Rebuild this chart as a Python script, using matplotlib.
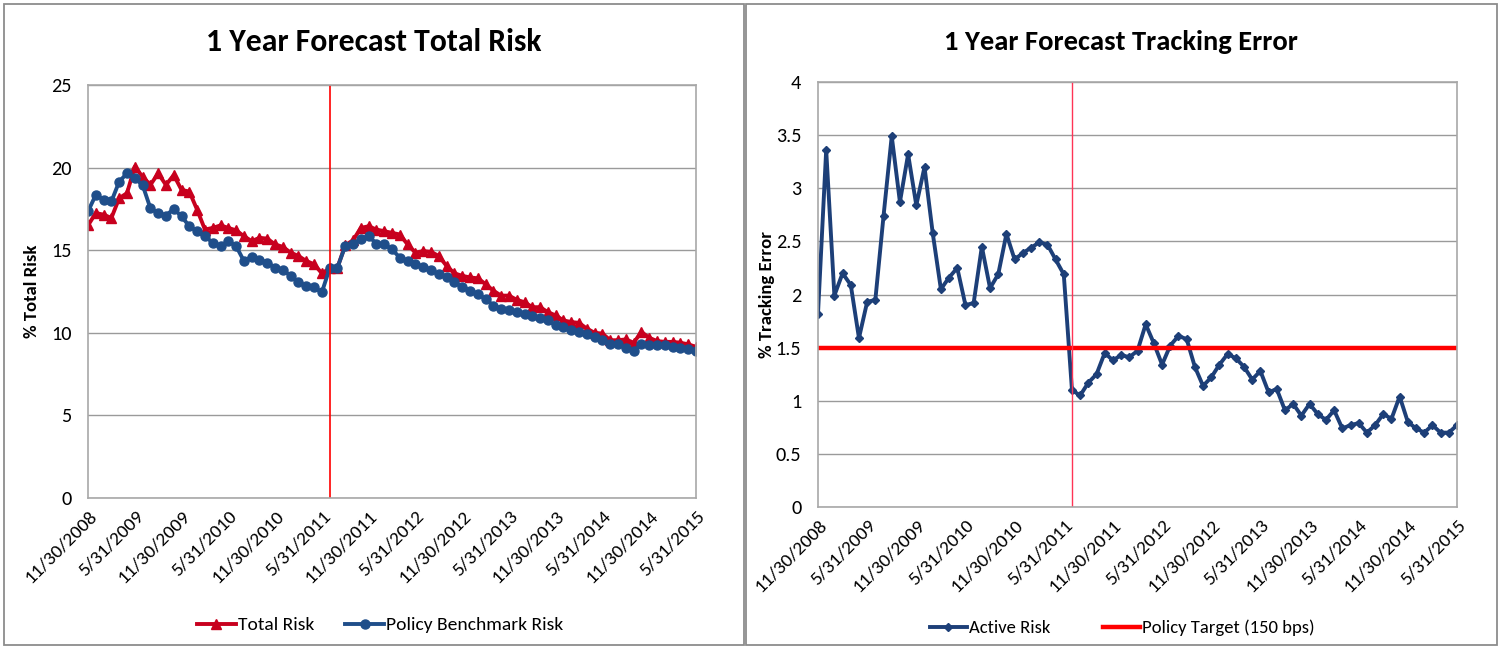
import numpy as np
import matplotlib.pyplot as plt
import matplotlib.font_manager as fm
from matplotlib.patches import Rectangle
from matplotlib.lines import Line2D

# Calibri look-alike if one is around, otherwise plain sans
available = set(f.name for f in fm.fontManager.ttflist)
font = next((f for f in ['Carlito', 'Liberation Sans Narrow', 'Liberation Sans']
             if f in available), 'DejaVu Sans')
plt.rcParams['font.family'] = [font, 'DejaVu Sans']
narrow = font in ('Carlito', 'Liberation Sans Narrow')
scale = 1.12 if narrow else 0.92

# monthly forecasts, 11/30/2008 .. 5/31/2015
total_risk = [16.5, 17.25, 17.15, 16.95, 18.15, 18.45, 20.05, 19.45, 18.95, 19.65,
              18.95, 19.55, 18.65, 18.55, 17.45, 16.25, 16.35, 16.5, 16.35, 16.2,
              15.85, 15.55, 15.75, 15.7, 15.35, 15.2, 14.85, 14.65, 14.35, 14.15,
              13.6, 13.9, 13.95, 15.3, 15.6, 16.35, 16.45, 16.25, 16.15, 16.05,
              15.95, 15.35, 14.85, 14.95, 14.9, 14.65, 14.05, 13.6, 13.45, 13.35,
              13.3, 12.95, 12.55, 12.25, 12.25, 12.0, 11.85, 11.55, 11.55, 11.25,
              11.05, 10.75, 10.65, 10.6, 10.25, 10.0, 9.95, 9.55, 9.55, 9.6,
              9.4, 10.05, 9.7, 9.5, 9.45, 9.45, 9.4, 9.3, 9.15]

benchmark_risk = [17.35, 18.35, 18.05, 17.95, 19.15, 19.65, 19.35, 18.95, 17.55, 17.25,
                  17.1, 17.5, 17.05, 16.45, 16.15, 15.85, 15.45, 15.25, 15.55, 15.25,
                  14.35, 14.6, 14.4, 14.25, 13.95, 13.8, 13.45, 13.05, 12.85, 12.75,
                  12.45, 13.9, 13.95, 15.25, 15.35, 15.7, 15.85, 15.4, 15.35, 15.05,
                  14.55, 14.35, 14.15, 14.0, 13.8, 13.55, 13.35, 13.05, 12.8, 12.55,
                  12.35, 12.05, 11.65, 11.45, 11.35, 11.25, 11.15, 11.0, 10.9, 10.75,
                  10.45, 10.35, 10.15, 10.05, 9.95, 9.75, 9.55, 9.35, 9.3, 9.1,
                  8.9, 9.3, 9.25, 9.25, 9.25, 9.15, 9.05, 9.0, 8.9]

active_risk = [1.82, 3.36, 1.99, 2.2, 2.09, 1.59, 1.93, 1.95, 2.74, 3.49,
               2.87, 3.32, 2.84, 3.2, 2.58, 2.05, 2.16, 2.25, 1.9, 1.92,
               2.45, 2.06, 2.19, 2.57, 2.33, 2.39, 2.44, 2.49, 2.47, 2.33,
               2.19, 1.1, 1.05, 1.17, 1.25, 1.45, 1.38, 1.43, 1.41, 1.47,
               1.72, 1.54, 1.34, 1.52, 1.61, 1.58, 1.32, 1.14, 1.22, 1.34,
               1.44, 1.4, 1.32, 1.2, 1.28, 1.08, 1.11, 0.91, 0.97, 0.86,
               0.97, 0.875, 0.82, 0.91, 0.74, 0.77, 0.79, 0.7, 0.77, 0.875,
               0.83, 1.04, 0.8, 0.74, 0.7, 0.77, 0.7, 0.7, 0.77]

policy_target = 1.5
tick_labels = ['11/30/2008', '5/31/2009', '11/30/2009', '5/31/2010', '11/30/2010',
               '5/31/2011', '11/30/2011', '5/31/2012', '11/30/2012', '5/31/2013',
               '11/30/2013', '5/31/2014', '11/30/2014', '5/31/2015']
break_month = 31  # 6/30/2011

RED = '#C8001E'
BLUE = '#1F4E8A'
NAVY = '#1D3F78'
GRID = '#9A9A9A'

W, H = 1501, 650
fig = plt.figure(figsize=(W / 100, H / 100), dpi=100)


def px_axes(x0, y0, x1, y1):
    return fig.add_axes([x0 / W, 1 - y1 / H, (x1 - x0) / W, (y1 - y0) / H])


def panel_box(x0, y0, x1, y1):
    fig.add_artist(Rectangle((x0 / W, 1 - y1 / H), (x1 - x0) / W, (y1 - y0) / H,
                             transform=fig.transFigure, fill=False,
                             edgecolor='#8C8C8C', lw=1.3))


def style_axes(ax, n):
    ax.set_xlim(0, n - 1)
    ax.set_xticks(np.arange(0, n, 6))
    ax.set_xticklabels(tick_labels, rotation=45, ha='right', va='top',
                       rotation_mode='anchor', fontsize=12.5 * scale)
    ax.tick_params(axis='x', length=0, pad=7)
    ax.tick_params(axis='y', length=0, pad=12, labelsize=13 * scale)
    ax.grid(axis='y', color=GRID, lw=1)
    ax.set_axisbelow(True)
    for s in ax.spines.values():
        s.set_color('#A8A8A8')
        s.set_linewidth(1.2)


panel_box(4, 4, 744, 645)
panel_box(746, 4, 1497, 645)

# left: total risk vs benchmark
months = np.arange(len(total_risk))
ax1 = px_axes(88, 85, 696, 498)
ax1.plot(months, total_risk, color=RED, lw=2.8, marker='^', ms=7, label='Total Risk')
ax1.plot(months, benchmark_risk, color=BLUE, lw=2.8, marker='o', ms=6.5,
         label='Policy Benchmark Risk')
ax1.axvline(break_month, color='#FF0000', lw=1.2)
ax1.set_ylim(0, 25)
ax1.set_yticks([0, 5, 10, 15, 20, 25])
style_axes(ax1, len(total_risk))
ax1.set_ylabel('% Total Risk', fontsize=12 * scale, fontweight='bold')
ax1.yaxis.set_label_coords(-0.079, 0.5)
fig.text(374 / W, 1 - 42 / H, '1 Year Forecast Total Risk', ha='center', va='center',
         fontsize=20.3 * scale, fontweight='bold')
fig.legend(handles=ax1.get_lines()[:2], loc='center', bbox_to_anchor=(380 / W, 1 - 625 / H),
           ncol=2, frameon=False, fontsize=12.5 * scale, handlelength=2.0,
           columnspacing=1.6, handletextpad=0.1)

# right: tracking error vs policy target
ax2 = px_axes(818, 82, 1457, 507)
ax2.plot(months, active_risk, color=NAVY, lw=2.8, marker='D', ms=4.5, label='Active Risk')
ax2.axhline(policy_target, color='#FF0000', lw=3.2, label='Policy Target (150 bps)')
ax2.axvline(break_month, color='#FF3355', lw=1)
ax2.set_ylim(0, 4)
ax2.set_yticks(np.arange(0, 4.01, 0.5))
ax2.set_yticklabels(['0', '0.5', '1', '1.5', '2', '2.5', '3', '3.5', '4'])
style_axes(ax2, len(active_risk))
ax2.set_ylabel('% Tracking Error', fontsize=12 * scale, fontweight='bold')
ax2.yaxis.set_label_coords(-0.067, 0.5)
fig.text(1121 / W, 1 - 42 / H, '1 Year Forecast Tracking Error', ha='center', va='center',
         fontsize=18.3 * scale, fontweight='bold')
fig.legend(handles=[Line2D([], [], color=NAVY, lw=2.8, marker='D', ms=4.5),
                    Line2D([], [], color='#FF0000', lw=3.2)],
           labels=['Active Risk', 'Policy Target (150 bps)'],
           loc='center', bbox_to_anchor=(1122 / W, 1 - 628 / H),
           ncol=2, frameon=False, fontsize=12 * scale, handlelength=2.0,
           columnspacing=2.8, handletextpad=0.1)

fig.savefig('out.png', dpi=100)
